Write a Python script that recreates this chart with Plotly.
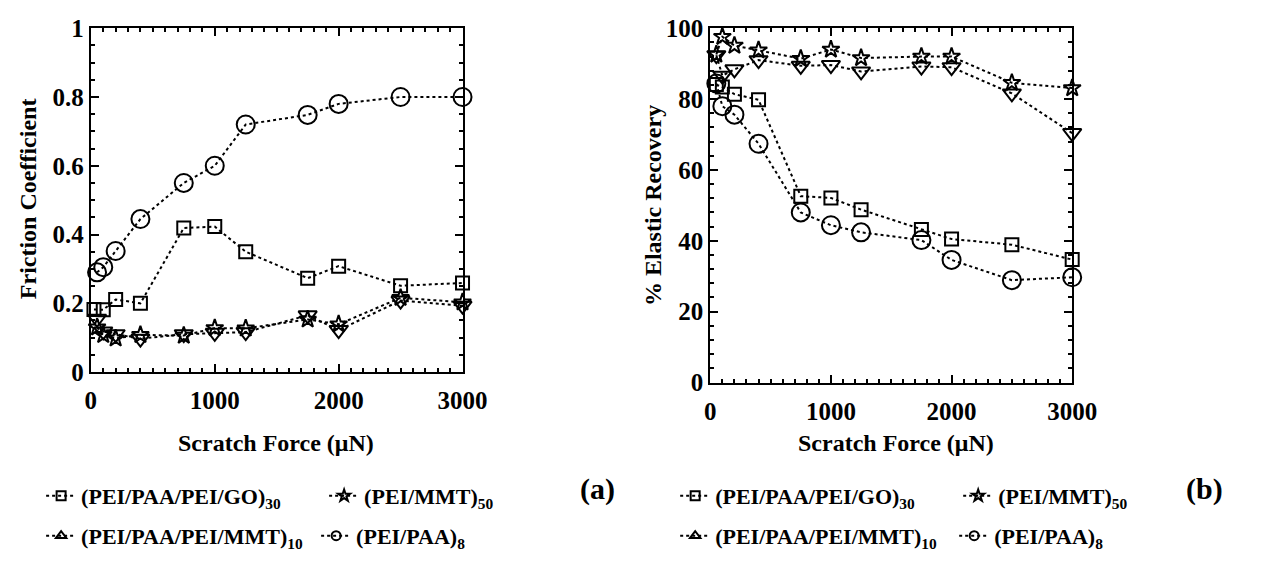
import plotly.graph_objects as go

# ---------------- data ----------------
force = [50, 100, 200, 400, 750, 1000, 1250, 1750, 2000, 2500, 3000]
force_go_a = [25, 100, 200, 400, 750, 1000, 1250, 1750, 2000, 2500, 3000]

# (a) friction coefficient
fric_go30 = [0.182, 0.181, 0.211, 0.200, 0.419, 0.423, 0.350, 0.273, 0.308, 0.251, 0.259]
fric_mmt50 = [0.130, 0.108, 0.098, 0.108, 0.106, 0.128, 0.127, 0.153, 0.139, 0.216, 0.203]
fric_mmt10 = [0.155, 0.118, 0.110, 0.097, 0.110, 0.114, 0.116, 0.165, 0.122, 0.208, 0.193]
fric_paa8 = [0.290, 0.305, 0.352, 0.445, 0.550, 0.600, 0.720, 0.748, 0.780, 0.800, 0.800]

# (b) % elastic recovery
er_go30 = [84.1, 83.4, 81.4, 79.8, 52.6, 52.1, 48.8, 43.2, 40.5, 38.9, 34.7]
er_mmt50 = [92.6, 97.6, 95.1, 93.8, 91.4, 94.0, 91.6, 92.0, 92.0, 84.6, 83.1]
er_mmt10 = [92.4, 86.6, 88.4, 91.0, 89.4, 89.6, 87.8, 89.2, 89.0, 81.6, 70.4]
er_paa8 = [84.4, 78.0, 75.6, 67.4, 48.0, 44.4, 42.4, 40.2, 34.6, 28.9, 29.7]

names = ["(PEI/PAA/PEI/GO)<sub>30</sub>", "(PEI/MMT)<sub>50</sub>",
         "(PEI/PAA/PEI/MMT)<sub>10</sub>", "(PEI/PAA)<sub>8</sub>"]

FONT = "Liberation Serif, Times New Roman, serif"

fig = go.Figure()

def add_series(x, y, sym, size, xa, ya):
    fig.add_trace(go.Scatter(
        x=x, y=y, mode="lines+markers", xaxis=xa, yaxis=ya, showlegend=False,
        cliponaxis=False,
        line=dict(color="black", width=2, dash="dot"),
        marker=dict(symbol=sym, size=size, color="black", line=dict(width=2, color="black"))))

# panel (a)
add_series(force, fric_mmt10, "triangle-down-open", 16, "x", "y")
add_series(force, fric_mmt50, "star-open", 13, "x", "y")
add_series(force_go_a, fric_go30, "square-open", 13, "x", "y")
add_series(force, fric_paa8, "circle-open", 18, "x", "y")
# panel (b)
add_series(force, er_mmt10, "triangle-down-open", 16, "x2", "y2")
add_series(force, er_mmt50, "star-open", 13, "x2", "y2")
add_series(force, er_go30, "square-open", 13, "x2", "y2")
add_series(force, er_paa8, "circle-open", 18, "x2", "y2")

# legend entries (dummy traces)
leg_syms = ["square-open", "star-open", "triangle-up-open", "circle-open"]
leg_ids = [["legend", "legend", "legend2", "legend2"],
           ["legend3", "legend3", "legend4", "legend4"]]
for p in range(2):
    for i in range(4):
        fig.add_trace(go.Scatter(
            x=[None], y=[None], mode="lines+markers", name=names[i],
            legend=leg_ids[p][i], xaxis="x" if p == 0 else "x2",
            yaxis="y" if p == 0 else "y2",
            line=dict(color="black", width=2, dash="dot"),
            marker=dict(symbol=leg_syms[i], size=9, color="black",
                        line=dict(width=2, color="black"))))

W, H = 1264, 567
def px_x(v): return v / W
def px_y(v): return 1 - v / H

axis_common = dict(
    showline=True, linewidth=2, linecolor="black", mirror="allticks",
    ticks="inside", ticklen=8, tickwidth=2, tickcolor="black",
    showgrid=False, zeroline=False,
    tickfont=dict(family=FONT, size=25, color="black", weight="bold"),
)

fig.update_layout(
    width=W, height=H, margin=dict(l=0, r=0, t=0, b=0),
    paper_bgcolor="white", plot_bgcolor="white",
    font=dict(family=FONT, color="black"),
    xaxis=dict(domain=[px_x(87), px_x(468)], range=[0, 3000], dtick=1000,
               anchor="y", ticklabelstandoff=5,
               minor=dict(dtick=100, ticks="inside", ticklen=4, tickwidth=1.5, tickcolor="black"),
               **axis_common),
    yaxis=dict(domain=[px_y(377), px_y(16)], range=[0, 1], dtick=0.2,
               anchor="x",
               minor=dict(dtick=0.05, ticks="inside", ticklen=4, tickwidth=1.5, tickcolor="black"),
               **axis_common),
    xaxis2=dict(domain=[px_x(722), px_x(1093)], range=[0, 3000], dtick=1000,
                anchor="y2", ticklabelstandoff=5,
                minor=dict(dtick=100, ticks="inside", ticklen=4, tickwidth=1.5, tickcolor="black"),
                **axis_common),
    yaxis2=dict(domain=[px_y(388), px_y(16)], range=[0, 100], dtick=20,
                anchor="x2",
                minor=dict(dtick=4, ticks="inside", ticklen=4, tickwidth=1.5, tickcolor="black"),
                **axis_common),
)

def leg(x, y, ew):
    return dict(orientation="h", xanchor="left", yanchor="middle", x=px_x(x), y=px_y(y),
                bgcolor="rgba(0,0,0,0)", itemwidth=30, entrywidth=ew,
                entrywidthmode="pixels",
                font=dict(family=FONT, size=22, color="black", weight="bold"))

fig.update_layout(
    legend=leg(36, 507, 238),
    legend2=leg(36, 549, 230),
    legend3=leg(686, 507, 238),
    legend4=leg(686, 549, 234),
)

ann = []
title_font = dict(family=FONT, size=24, color="black", weight="bold")
ann.append(dict(text="Friction Coefficient", x=px_x(22), y=px_y(195), xref="paper", yref="paper",
                textangle=-90, showarrow=False, font=title_font, xanchor="center", yanchor="middle"))
ann.append(dict(text="% Elastic Recovery", x=px_x(664), y=px_y(202), xref="paper", yref="paper",
                textangle=-90, showarrow=False, font=title_font, xanchor="center", yanchor="middle"))
ann.append(dict(text="Scratch Force (μN)", x=px_x(277), y=px_y(451), xref="paper", yref="paper",
                showarrow=False, font=title_font, xanchor="center", yanchor="middle"))
ann.append(dict(text="Scratch Force (μN)", x=px_x(912), y=px_y(451), xref="paper", yref="paper",
                showarrow=False, font=title_font, xanchor="center", yanchor="middle"))
lab_font = dict(family=FONT, size=30, color="black", weight="bold")
ann.append(dict(text="(a)", x=px_x(606), y=px_y(500), xref="paper", yref="paper",
                showarrow=False, font=lab_font, xanchor="center", yanchor="middle"))
ann.append(dict(text="(b)", x=px_x(1229), y=px_y(500), xref="paper", yref="paper",
                showarrow=False, font=lab_font, xanchor="center", yanchor="middle"))
fig.update_layout(annotations=ann)

fig.write_html("out.html")
